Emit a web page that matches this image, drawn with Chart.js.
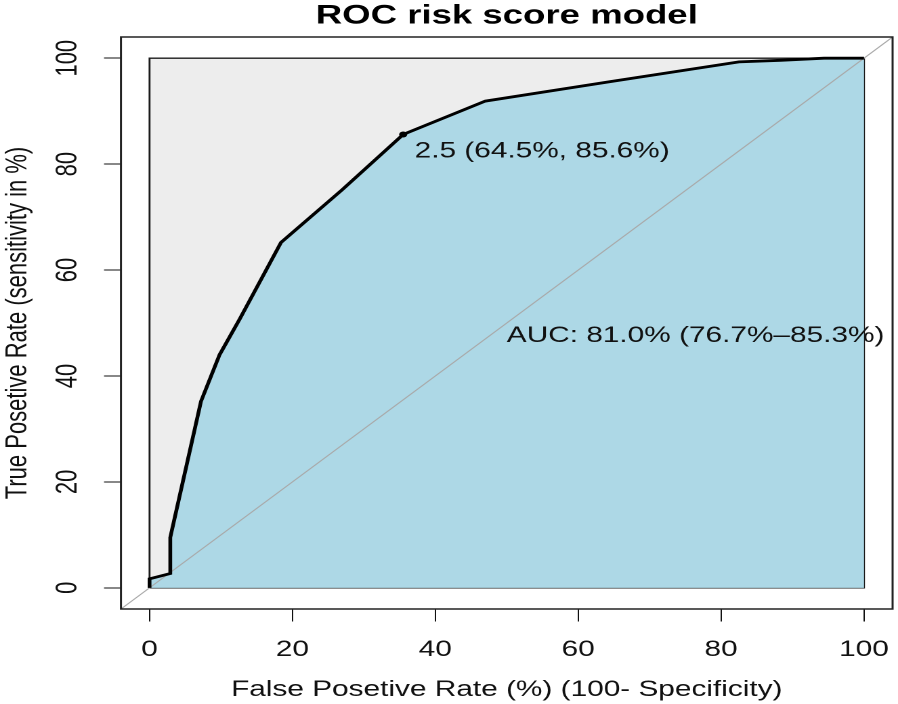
<!DOCTYPE html>
<html>
<head>
<meta charset="utf-8">
<title>ROC risk score model</title>
<script src="https://cdn.jsdelivr.net/npm/chart.js@4.4.1/dist/chart.umd.min.js"></script>
<style>
  html, body { margin: 0; padding: 0; background: #fff; overflow: hidden; }
  /* the original R plot was square-ish and got stretched sideways, so we draw narrow and stretch */
  #roc { display: block; transform: scaleX(1.35445); transform-origin: 0 0; }
</style>
</head>
<body>
<canvas id="roc" width="663" height="704"></canvas>
<script>
// ROC curve (false positive rate vs true positive rate, in %)
const fpr = [0, 0, 2.9, 2.9, 3.4, 7.2, 9.8, 12.6, 18.4, 27.0, 35.5, 47.0, 64.6, 82.5, 88.3, 94.4, 100];
const tpr = [0, 1.7, 2.7, 9.5, 12.5, 35.2, 44.0, 50.7, 65.2, 75.2, 85.6, 91.9, 95.6, 99.3, 99.6, 100, 100];

const tickValues = [0, 20, 40, 60, 80, 100];

const cutoffThreshold = 2.5;
const cutoffFpr = 35.5;
const cutoffTpr = 85.6;

const aucValue = 81.0;
const aucLow = 76.7;
const aucHigh = 85.3;

const rocPoints = fpr.map((x, i) => ({ x: x, y: tpr[i] }));
const aucPolygon = rocPoints.concat([{ x: 100, y: 0 }]);
const maxAucPolygon = [{ x: 0, y: 0 }, { x: 0, y: 100 }, { x: 100, y: 100 }, { x: 100, y: 0 }, { x: 0, y: 0 }];
const diagonal = [{ x: -4, y: -4 }, { x: 104, y: 104 }];

const FONT = "'Liberation Sans', Arial, sans-serif";
Chart.defaults.font.family = FONT;
Chart.defaults.color = '#111';

// text labels and the outer box, like R draws them
const rocExtras = {
    id: 'rocExtras',
    afterDatasetsDraw(chart) {
        const ctx = chart.ctx;
        const xs = chart.scales.x;
        const ys = chart.scales.y;
        ctx.save();
        ctx.fillStyle = '#111';
        ctx.font = '22px ' + FONT;
        ctx.textAlign = 'left';
        ctx.textBaseline = 'middle';
        const spec = (100 - cutoffFpr).toFixed(1);
        ctx.fillText(cutoffThreshold + ' (' + spec + '%, ' + cutoffTpr.toFixed(1) + '%)',
            xs.getPixelForValue(cutoffFpr + 1.6), ys.getPixelForValue(cutoffTpr - 3.2));
        ctx.fillText('AUC: ' + aucValue.toFixed(1) + '% (' + aucLow.toFixed(1) + '%\u2013' + aucHigh.toFixed(1) + '%)',
            xs.getPixelForValue(50), ys.getPixelForValue(47.6));
        ctx.restore();
    },
    afterDraw(chart) {
        const a = chart.chartArea;
        const ctx = chart.ctx;
        ctx.save();
        ctx.strokeStyle = '#222';
        ctx.lineWidth = 1.5;
        ctx.strokeRect(a.left, a.top, a.right - a.left, a.bottom - a.top);
        ctx.restore();
    }
};

// keep the plot box where R put it, whatever the labels measure
function noPad(s) {
    s.paddingLeft = 0;
    s.paddingRight = 0;
    s.paddingTop = 0;
    s.paddingBottom = 0;
}

new Chart(document.getElementById('roc'), {
    type: 'scatter',
    data: {
        datasets: [
            {
                data: [{ x: cutoffFpr, y: cutoffTpr }],
                pointRadius: 3,
                pointBackgroundColor: '#000',
                pointBorderWidth: 0,
                showLine: false,
                order: 0
            },
            {
                data: rocPoints,
                showLine: true,
                borderColor: '#000',
                borderWidth: 2.8,
                pointRadius: 0,
                fill: false,
                order: 1
            },
            {
                data: diagonal,
                showLine: true,
                borderColor: '#a9a9a9',
                borderWidth: 1,
                pointRadius: 0,
                fill: false,
                order: 2
            },
            {
                data: aucPolygon,
                showLine: true,
                borderWidth: 0,
                borderColor: 'rgba(0,0,0,0)',
                backgroundColor: '#add8e6',
                pointRadius: 0,
                fill: 'shape',
                order: 3
            },
            {
                data: maxAucPolygon,
                showLine: true,
                borderColor: '#1a1a1a',
                borderWidth: 1.4,
                backgroundColor: '#ededed',
                pointRadius: 0,
                fill: 'shape',
                order: 4
            }
        ]
    },
    options: {
        responsive: false,
        animation: false,
        devicePixelRatio: 2,
        layout: { padding: { left: 0, right: 0, top: 0, bottom: 0 } },
        plugins: {
            legend: { display: false },
            tooltip: { enabled: false },
            title: {
                display: true,
                fullSize: false,
                text: 'ROC risk score model',
                color: '#000',
                font: { size: 27, weight: 'bold' },
                padding: { top: 0, bottom: 4.6 }
            }
        },
        scales: {
            x: {
                type: 'linear',
                min: -4,
                max: 104,
                afterBuildTicks: s => { s.ticks = tickValues.map(v => ({ value: v })); },
                afterFit: s => { s.height = 95; noPad(s); },
                grid: { drawOnChartArea: false, tickLength: 12.5, tickColor: '#111', lineWidth: 1 },
                border: { display: false },
                ticks: { font: { size: 22 }, padding: 15, maxRotation: 0 },
                title: {
                    display: true,
                    text: 'False Posetive Rate (%) (100- Specificity)',
                    font: { size: 22 },
                    padding: { top: 0, bottom: 1 }
                }
            },
            y: {
                type: 'linear',
                min: -4,
                max: 104,
                afterBuildTicks: s => { s.ticks = tickValues.map(v => ({ value: v })); },
                afterFit: s => { s.width = 89.3; noPad(s); },
                grid: { drawOnChartArea: false, tickLength: 12.5, tickColor: '#111', lineWidth: 1 },
                border: { display: false },
                ticks: { font: { size: 22 }, padding: 8, minRotation: 90, maxRotation: 90, crossAlign: 'center' },
                title: {
                    display: true,
                    text: 'True Posetive Rate (sensitivity in %)',
                    font: { size: 22 },
                    padding: { top: 0, bottom: 0 }
                }
            }
        }
    },
    plugins: [rocExtras]
});
</script>
</body>
</html>
